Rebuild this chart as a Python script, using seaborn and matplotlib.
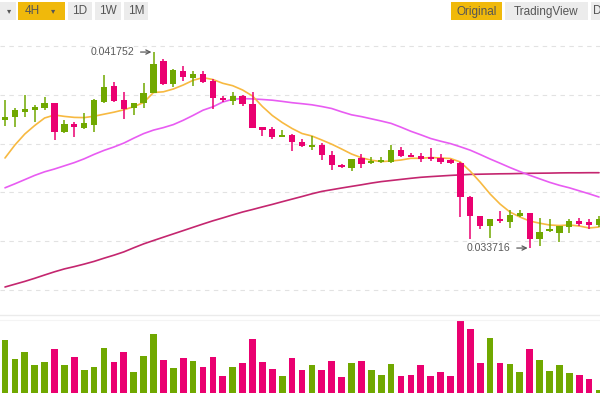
import numpy as np
import pandas as pd
import matplotlib
matplotlib.use("Agg")
import matplotlib.pyplot as plt
from matplotlib.patches import Rectangle
import seaborn as sns

# ---------------- data ----------------
open_ = [0.038966, 0.039077, 0.039306, 0.039376, 0.039446, 0.039651, 0.038486, 0.038802, 0.038626, 0.038761,
         0.039716, 0.040360, 0.039786, 0.039446, 0.039651, 0.040093, 0.041385, 0.040430, 0.040987, 0.040708,
         0.040840, 0.040565, 0.039888, 0.039757, 0.039950, 0.039622, 0.038667, 0.038585, 0.038281, 0.038351,
         0.038076, 0.037871, 0.037953, 0.037519, 0.037133, 0.037018, 0.037396, 0.037191, 0.037244, 0.037256,
         0.037748, 0.037531, 0.037502, 0.037461, 0.037396, 0.037326, 0.037223, 0.035821, 0.035030, 0.034620,
         0.034907, 0.034796, 0.035042, 0.035141, 0.034087, 0.034427, 0.034332, 0.034591, 0.034825, 0.034796,
         0.034661]
high = [0.039786, 0.039446, 0.039991, 0.039581, 0.039897, 0.039663, 0.038966, 0.038896, 0.039241, 0.039827,
        0.040811, 0.040536, 0.040126, 0.039675, 0.040471, 0.041752, 0.041467, 0.041045, 0.041180, 0.040995,
        0.040987, 0.040647, 0.039950, 0.040114, 0.039991, 0.040126, 0.038691, 0.038667, 0.038556, 0.038380,
        0.038187, 0.038298, 0.038011, 0.037695, 0.037150, 0.037387, 0.037584, 0.037437, 0.037461, 0.037941,
        0.037871, 0.037625, 0.037601, 0.037818, 0.037572, 0.037355, 0.037232, 0.035830, 0.035040, 0.034919,
        0.035255, 0.035276, 0.035276, 0.035150, 0.034936, 0.034907, 0.034608, 0.034907, 0.034936, 0.034895,
        0.035030]
low = [0.038720, 0.038667, 0.039101, 0.038896, 0.039376, 0.038146, 0.038421, 0.038281, 0.038585, 0.038486,
       0.039651, 0.039716, 0.038995, 0.039171, 0.039446, 0.040073, 0.040401, 0.040331, 0.040585, 0.040360,
       0.040471, 0.039437, 0.039716, 0.039581, 0.039552, 0.038620, 0.038330, 0.038187, 0.038269, 0.037695,
       0.037847, 0.037752, 0.037314, 0.036916, 0.037010, 0.036863, 0.036986, 0.037162, 0.037191, 0.037223,
       0.037437, 0.037437, 0.037232, 0.037297, 0.037162, 0.037182, 0.034989, 0.034099, 0.034509, 0.034140,
       0.034743, 0.034526, 0.034977, 0.033716, 0.033800, 0.034374, 0.033976, 0.034333, 0.034620, 0.034497,
       0.034579]
close = [0.039077, 0.039376, 0.039417, 0.039511, 0.039651, 0.038486, 0.038802, 0.038667, 0.038831, 0.039800,
         0.040331, 0.039757, 0.039405, 0.039651, 0.040061, 0.041262, 0.040430, 0.041016, 0.040717, 0.040852,
         0.040512, 0.039856, 0.039774, 0.039950, 0.039610, 0.038640, 0.038544, 0.038257, 0.038351, 0.038052,
         0.037888, 0.037941, 0.037543, 0.037121, 0.037039, 0.037380, 0.037154, 0.037285, 0.037326, 0.037748,
         0.037490, 0.037461, 0.037379, 0.037355, 0.037264, 0.037191, 0.035821, 0.035030, 0.034620, 0.034907,
         0.034813, 0.035071, 0.035141, 0.034087, 0.034386, 0.034485, 0.034600, 0.034813, 0.034702, 0.034681,
         0.034895]
volume = [160, 102, 125, 83, 93, 134, 83, 109, 68, 77, 137, 93, 124, 63, 112, 178, 100, 74, 105, 96,
          77, 109, 52, 77, 90, 164, 93, 73, 52, 105, 70, 83, 70, 96, 48, 90, 96, 70, 54, 87,
          52, 54, 83, 51, 62, 51, 218, 192, 90, 166, 90, 87, 64, 134, 99, 67, 83, 61, 54, 41, 10]
ma7 = [0.037408, 0.037941, 0.038392, 0.038740, 0.039048, 0.039171, 0.039114, 0.039073, 0.039064, 0.039122,
       0.039204, 0.039286, 0.039384, 0.039511, 0.039683, 0.040093, 0.040122, 0.040237, 0.040401, 0.040594,
       0.040704, 0.040626, 0.040471, 0.040372, 0.040196, 0.039950, 0.039519, 0.039150, 0.038863, 0.038617,
       0.038412, 0.038310, 0.038146, 0.037974, 0.037777, 0.037572, 0.037420, 0.037318, 0.037260, 0.037285,
       0.037326, 0.037396, 0.037396, 0.037428, 0.037408, 0.037387, 0.037244, 0.036863, 0.036416, 0.035932,
       0.035522, 0.035194, 0.034989, 0.034825, 0.034735, 0.034661, 0.034640, 0.034661, 0.034620, 0.034538,
       0.034579]
ma25 = [0.036186, 0.036350, 0.036522, 0.036695, 0.036842, 0.036957, 0.037088, 0.037219, 0.037375, 0.037556,
        0.037720, 0.037859, 0.038019, 0.038220, 0.038408, 0.038552, 0.038654, 0.038777, 0.038954, 0.039155,
        0.039368, 0.039507, 0.039704, 0.039819, 0.039843, 0.039831, 0.039806, 0.039778, 0.039729, 0.039675,
        0.039634, 0.039589, 0.039519, 0.039437, 0.039302, 0.039179, 0.039105, 0.039015, 0.038925, 0.038827,
        0.038671, 0.038503, 0.038359, 0.038207, 0.038097, 0.037998, 0.037867, 0.037728, 0.037551, 0.037367,
        0.037195, 0.037018, 0.036854, 0.036699, 0.036555, 0.036412, 0.036289, 0.036186, 0.036063, 0.035940,
        0.035809]
ma99 = [0.032119, 0.032234, 0.032349, 0.032476, 0.032611, 0.032742, 0.032861, 0.032955, 0.033058, 0.033169,
        0.033300, 0.033423, 0.033558, 0.033726, 0.033886, 0.034025, 0.034161, 0.034296, 0.034431, 0.034567,
        0.034702, 0.034833, 0.034952, 0.035075, 0.035194, 0.035296, 0.035403, 0.035506, 0.035616, 0.035723,
        0.035829, 0.035940, 0.036039, 0.036108, 0.036178, 0.036244, 0.036309, 0.036379, 0.036440, 0.036485,
        0.036531, 0.036576, 0.036617, 0.036645, 0.036670, 0.036695, 0.036715, 0.036736, 0.036744, 0.036752,
        0.036760, 0.036764, 0.036772, 0.036781, 0.036785, 0.036789, 0.036797, 0.036801, 0.036801, 0.036805,
        0.036805]
grid_prices = [0.032, 0.034, 0.036, 0.038, 0.040, 0.042]
interval_buttons = ["4H", "1D", "1W", "1M"]
view_buttons = ["Original", "TradingView", "D"]

# ---------------- style ----------------
sns.set_style("white")
plt.rcParams["font.family"] = ["Liberation Sans", "DejaVu Sans"]

UP, DOWN = "#70a800", "#ea0070"
C7, C25, C99 = "#f7b941", "#e85cf2", "#c4266f"
TXT = "#555555"
YEL, GREY = "#f0b90b", "#ececec"

W, H = 600, 400
fig = plt.figure(figsize=(6, 4), dpi=100)
fig.patch.set_facecolor("white")


def fx(px):
    return px / W


def fy(py):
    return 1 - py / H


ax = fig.add_axes([0, fy(315), 1, (315 - 24) / H])
axv = fig.add_axes([0, fy(393), 1, (393 - 320) / H])

df = pd.DataFrame(dict(idx=np.arange(len(close)), open=open_, high=high, low=low,
                       close=close, vol=volume, ma7=ma7, ma25=ma25, ma99=ma99))
df["dir"] = np.where(df["close"] >= df["open"], "up", "down")
cols = df["dir"].map({"up": UP, "down": DOWN}).tolist()

# ---------------- price panel ----------------
for key, col in (("ma99", C99), ("ma25", C25), ("ma7", C7)):
    sns.lineplot(data=df, x="idx", y=key, color=col, lw=1.2, ax=ax, zorder=2)

ax.vlines(df["idx"], df["low"], df["high"], colors=cols, lw=1.1, zorder=3)
body_lo = np.minimum(df["open"], df["close"])
body_h = np.abs(df["close"] - df["open"])
min_h = 0.00006
mid = body_lo + body_h / 2
body_h2 = np.maximum(body_h, min_h)
ax.bar(df["idx"], body_h2, bottom=mid - body_h2 / 2, width=0.64, color=cols, lw=0, zorder=4)

ax.set_xlim(-0.505, 60.1)
ax.set_ylim(0.042 - (315 - 46) * 0.000041, 0.042 + (46 - 24) * 0.000041)
ax.set_yticks(grid_prices)
ax.set_yticklabels([])
ax.set_xticks([])
ax.tick_params(length=0)
ax.yaxis.grid(True, color="#e2e2e2", linestyle=(0, (4, 4)), lw=0.8)
ax.set_axisbelow(True)
ax.set_xlabel("")
ax.set_ylabel("")
for s in ("top", "left", "right"):
    ax.spines[s].set_visible(False)
ax.spines["bottom"].set_color("#ebebeb")
ax.spines["bottom"].set_linewidth(1.0)

# high / low annotations
i_hi = int(np.argmax(df["high"]))
i_lo = int(np.argmin(df["low"]))
for i, val in ((i_hi, df["high"][i_hi]), (i_lo, df["low"][i_lo])):
    ax.annotate(f"{val:.6f}", xy=(i, val), xytext=(-19, 0), textcoords="offset pixels",
                ha="right", va="center", fontsize=7.6, color="#5a5a5a",
                arrowprops=dict(arrowstyle="->", color="#5a5a5a", lw=0.9, shrinkA=2, shrinkB=1.5),
                zorder=6)

# ---------------- volume panel ----------------
sns.barplot(data=df, x="idx", y="vol", hue="dir", palette={"up": UP, "down": DOWN},
            dodge=False, native_scale=True, width=0.68, saturation=1, legend=False,
            ax=axv, linewidth=0)
axv.set_xlim(-0.505, 60.1)
axv.set_ylim(0, 220)
axv.set_xticks([])
axv.set_yticks([])
axv.set_xlabel("")
axv.set_ylabel("")
for s in ("bottom", "left", "right"):
    axv.spines[s].set_visible(False)
axv.spines["top"].set_color("#f4f4f4")

# ---------------- toolbar ----------------
def button(x0, x1, bg):
    fig.add_artist(Rectangle((fx(x0), fy(20)), (x1 - x0) / W, 18 / H,
                             transform=fig.transFigure, facecolor=bg, edgecolor="none"))


def label(xc, s, size=8.5, ha="center"):
    fig.text(fx(xc), fy(11.5), s, ha=ha, va="center", fontsize=size, color=TXT)


button(0, 16, GREY)
label(9, "▾", size=6)
button(18, 65, YEL)
label(32, interval_buttons[0])
label(53, "▾", size=6)
for (x0, x1), s in zip(((68, 92), (95, 121), (124, 148)), interval_buttons[1:]):
    button(x0, x1, GREY)
    label((x0 + x1) / 2, s)

button(451, 502, YEL)
label(476.5, view_buttons[0])
button(505, 588, GREY)
label(546.5, view_buttons[1])
button(591, 620, GREY)
label(592.5, view_buttons[2], ha="left")

fig.savefig("out.png", dpi=100, facecolor="white")
